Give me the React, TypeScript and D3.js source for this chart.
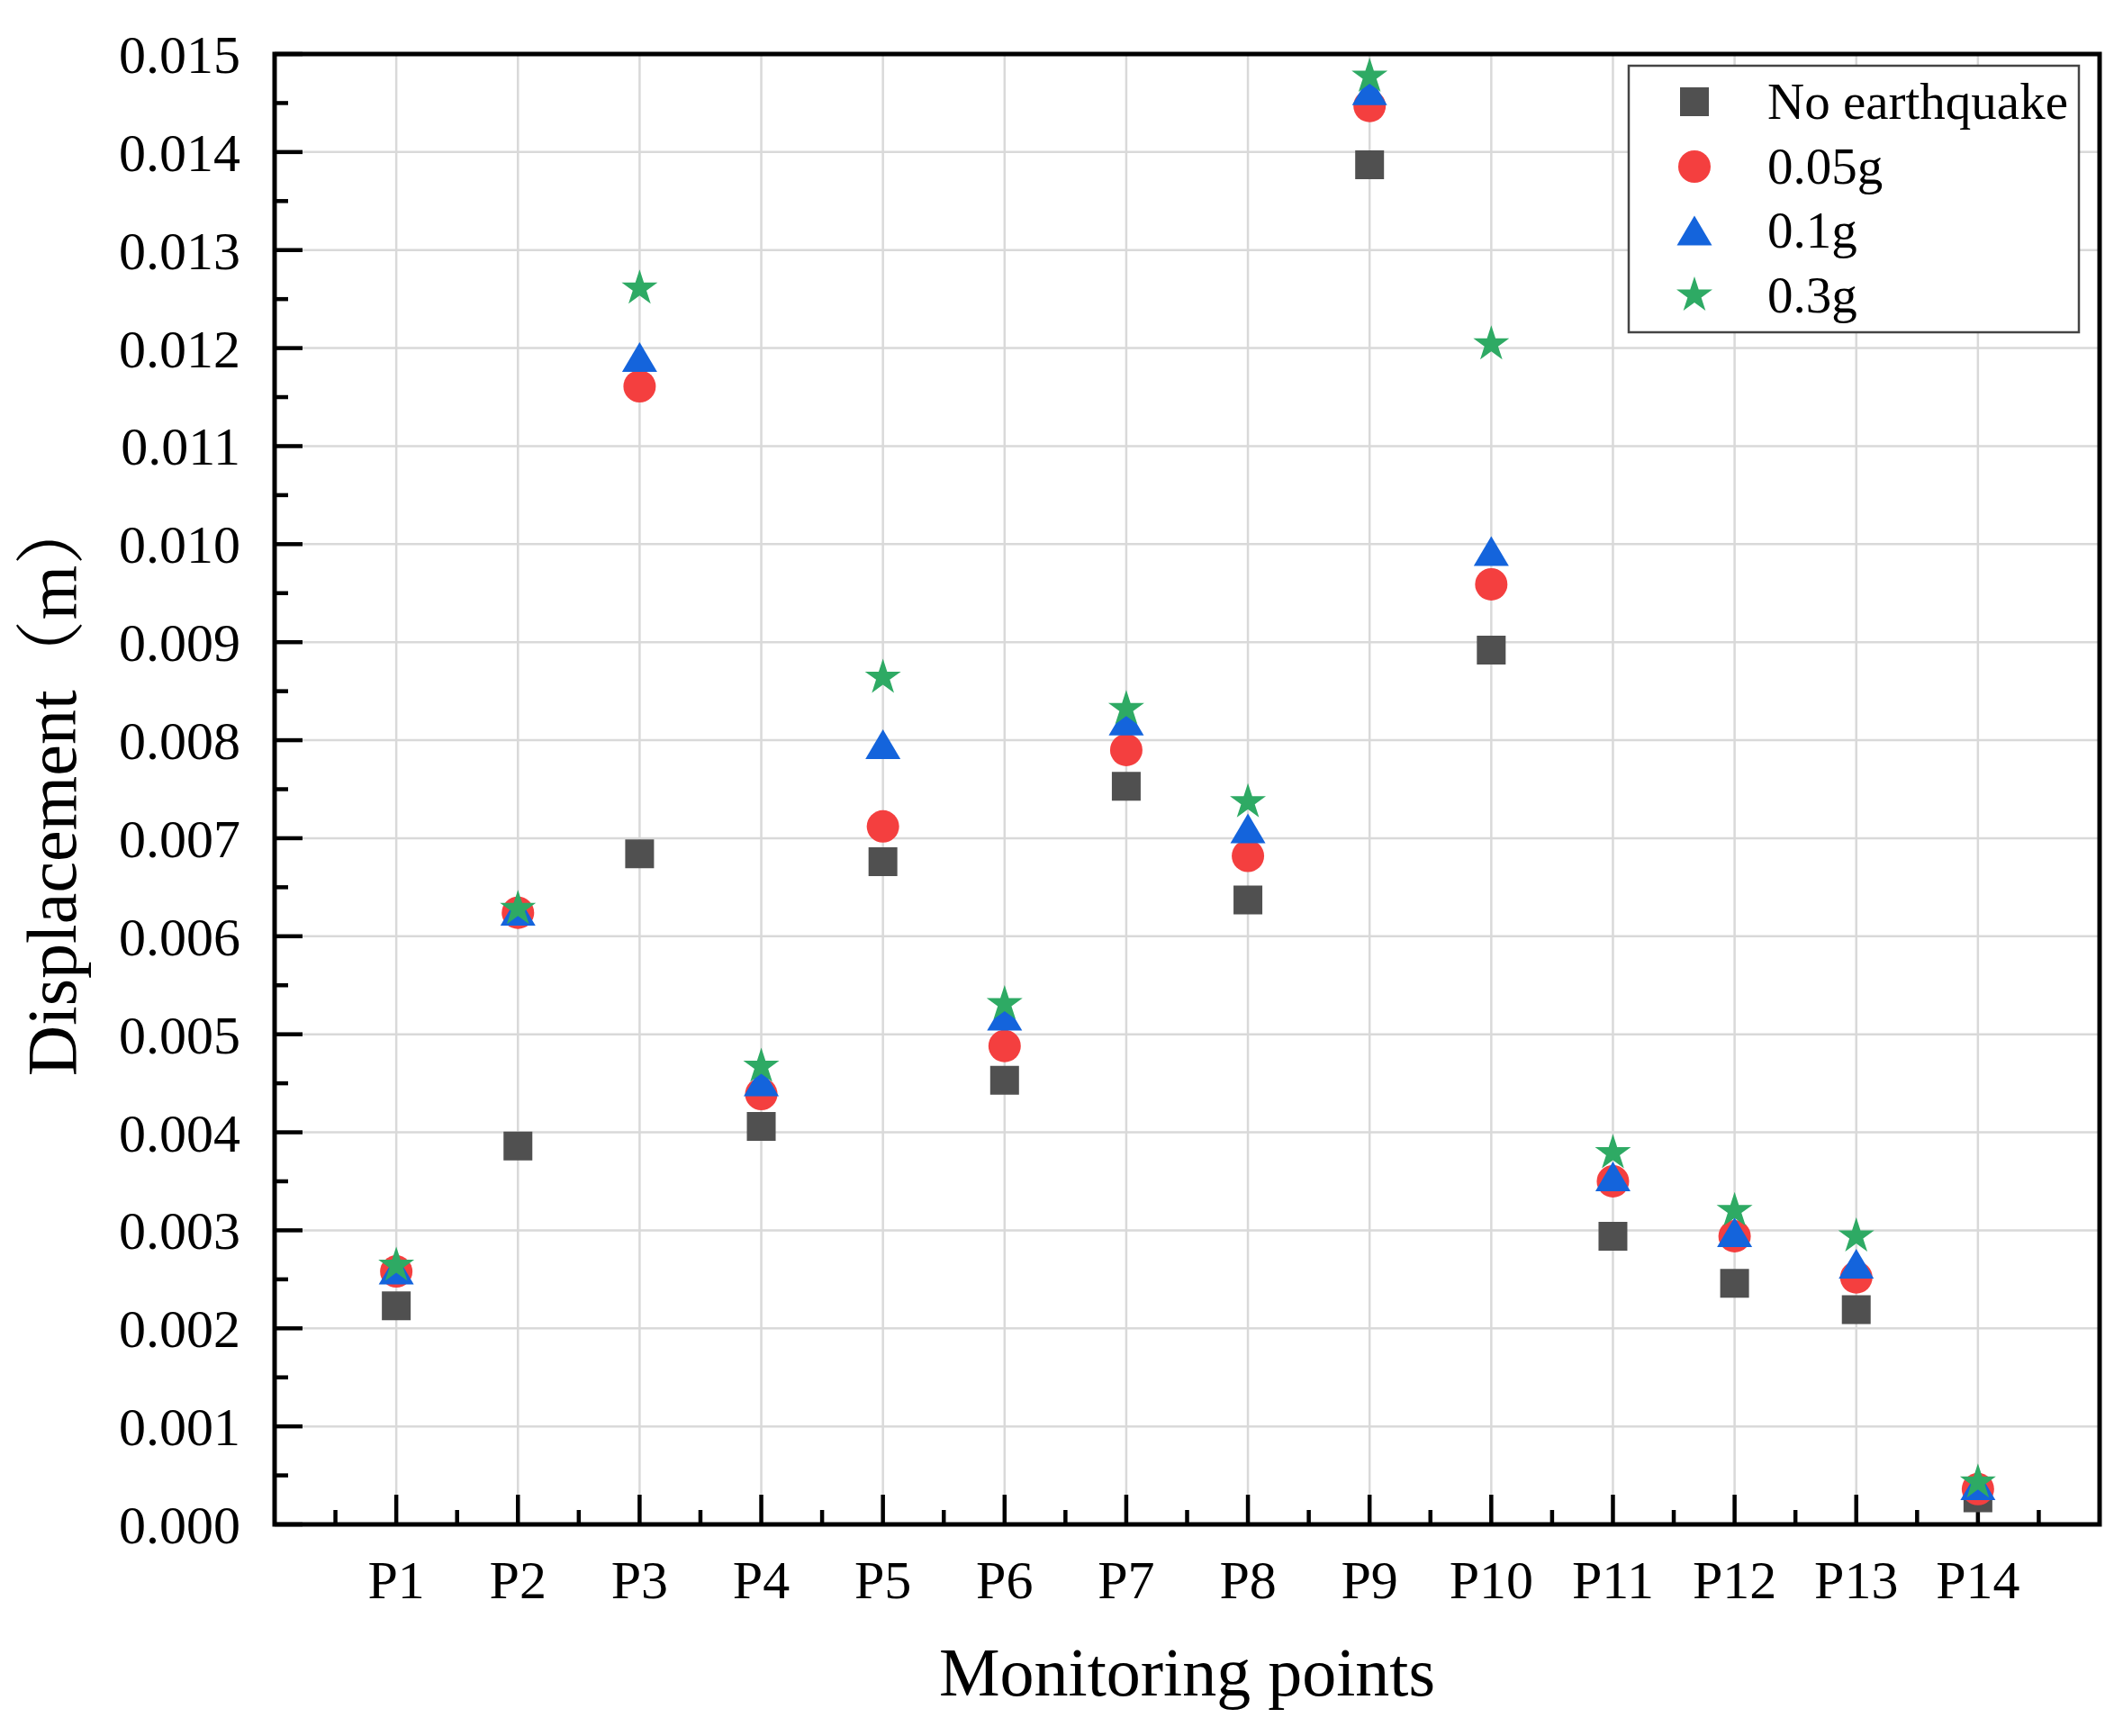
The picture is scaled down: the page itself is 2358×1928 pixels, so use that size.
import React from "react";
import * as d3 from "d3";

const categories = ["P1", "P2", "P3", "P4", "P5", "P6", "P7", "P8", "P9", "P10", "P11", "P12", "P13", "P14"];
const noEarthquake = [0.00223, 0.00386, 0.00684, 0.00406, 0.00676, 0.00453, 0.00753, 0.00637, 0.01387, 0.00892, 0.00294, 0.00246, 0.00219, 0.00027];
const g005 = [0.00258, 0.00624, 0.01161, 0.00439, 0.00712, 0.00488, 0.0079, 0.00682, 0.01447, 0.00959, 0.0035, 0.00294, 0.00252, 0.00036];
const g01 = [0.0026, 0.00626, 0.01191, 0.00452, 0.00796, 0.00519, 0.0082, 0.0071, 0.01463, 0.00993, 0.00355, 0.00298, 0.00266, 0.0004];
const g03 = [0.00264, 0.00628, 0.01261, 0.00467, 0.00864, 0.00531, 0.00832, 0.00737, 0.01477, 0.01204, 0.00379, 0.0032, 0.00294, 0.00043];
const seriesNames = ["No earthquake", "0.05g", "0.1g", "0.3g"];
const yTickValues = [0, 0.001, 0.002, 0.003, 0.004, 0.005, 0.006, 0.007, 0.008, 0.009, 0.01, 0.011, 0.012, 0.013, 0.014, 0.015];

const W = 2358;
const H = 1928;
const L = 305, R = 2332, T = 60, B = 1693;
const FONT = "'Times New Roman', 'Liberation Serif', 'Noto Serif CJK SC', 'Noto Sans CJK SC', serif";
const colors = ["#505050", "#f43f3f", "#1464dc", "#2eaa64"];
const shapes = ["square", "circle", "triangle", "star"];

function squarePath(s: number) {
  const h = s / 2;
  return `M${-h},${-h}L${h},${-h}L${h},${h}L${-h},${h}Z`;
}
function trianglePath(w: number, h: number) {
  return `M0,${-h / 2}L${w / 2},${h / 2}L${-w / 2},${h / 2}Z`;
}
function starPath(ro: number) {
  const ri = ro * 0.382;
  const pts: string[] = [];
  for (let i = 0; i < 10; i++) {
    const r = i % 2 === 0 ? ro : ri;
    const a = -Math.PI / 2 + (i * Math.PI) / 5;
    pts.push(`${(r * Math.cos(a)).toFixed(2)},${(r * Math.sin(a)).toFixed(2)}`);
  }
  return "M" + pts.join("L") + "Z";
}

function Marker({ shape, color, x, y }: { shape: string; color: string; x: number; y: number }) {
  if (shape === "circle") return <circle cx={x} cy={y} r={18} fill={color} />;
  let d = "";
  if (shape === "square") d = squarePath(32);
  else if (shape === "triangle") d = trianglePath(39, 33);
  else d = starPath(21);
  return <path d={d} transform={`translate(${x},${y})`} fill={color} />;
}

export default function App() {
  const x = d3.scaleLinear().domain([0, 15]).range([L, R]);
  const y = d3.scaleLinear().domain([0, 0.015]).range([B, T]);
  const allSeries = [noEarthquake, g005, g01, g03];
  const xMajor = d3.range(1, 15);
  const xMinor = d3.range(0.5, 15, 1);
  const yMinor = d3.range(0.0005, 0.015, 0.001);

  const legendX = 1809, legendY = 73, legendW = 500, legendH = 296;
  const rowYs = [113, 185, 256, 328];

  return (
    <svg width={W} height={H} style={{ position: "absolute", left: 0, top: 0, background: "#fff" }} fontFamily={FONT}>
      <rect x={0} y={0} width={W} height={H} fill="#fff" />
      {/* grid */}
      <g stroke="#d9d9d9" strokeWidth={2.5}>
        {xMajor.map((v) => (
          <line key={"gx" + v} x1={x(v)} x2={x(v)} y1={T} y2={B} />
        ))}
        {yTickValues.slice(1, -1).map((v) => (
          <line key={"gy" + v} x1={L} x2={R} y1={y(v)} y2={y(v)} />
        ))}
      </g>
      {/* ticks */}
      <g stroke="#000" strokeWidth={4.5}>
        {xMajor.map((v) => (
          <line key={"tx" + v} x1={x(v)} x2={x(v)} y1={B} y2={B - 33} />
        ))}
        {xMinor.map((v) => (
          <line key={"mx" + v} x1={x(v)} x2={x(v)} y1={B} y2={B - 16} />
        ))}
        {yTickValues.map((v) => (
          <line key={"ty" + v} x1={L} x2={L + 31} y1={y(v)} y2={y(v)} />
        ))}
        {yMinor.map((v) => (
          <line key={"my" + v} x1={L} x2={L + 15} y1={y(v)} y2={y(v)} />
        ))}
      </g>
      {/* frame */}
      <rect x={L} y={T} width={R - L} height={B - T} fill="none" stroke="#000" strokeWidth={5} />
      {/* tick labels */}
      <g fontSize={60} fill="#000">
        {yTickValues.map((v) => (
          <text key={"ly" + v} x={267} y={y(v) + 21} textAnchor="end">
            {v.toFixed(3)}
          </text>
        ))}
        {categories.map((c, i) => (
          <text key={"lx" + c} x={x(i + 1)} y={1775} textAnchor="middle">
            {c}
          </text>
        ))}
      </g>
      {/* axis titles */}
      <text x={(L + R) / 2} y={1883} fontSize={76} textAnchor="middle" fill="#000">
        Monitoring points
      </text>
      <text transform={`translate(84,${(T + B) / 2 - 4}) rotate(-90)`} fontSize={78} textAnchor="middle" fill="#000">
        Displacement（m）
      </text>
      {/* data */}
      {allSeries.map((vals, si) => (
        <g key={"s" + si}>
          {vals.map((v, i) => (
            <Marker key={i} shape={shapes[si]} color={colors[si]} x={x(i + 1)} y={y(v)} />
          ))}
        </g>
      ))}
      {/* legend */}
      <rect x={legendX} y={legendY} width={legendW} height={legendH} fill="#fff" stroke="#444" strokeWidth={2.5} />
      {seriesNames.map((name, i) => (
        <g key={"lg" + i}>
          <Marker shape={shapes[i]} color={colors[i]} x={1882} y={rowYs[i]} />
          <text x={1963} y={rowYs[i] + 19} fontSize={57} fill="#000">
            {name}
          </text>
        </g>
      ))}
    </svg>
  );
}
